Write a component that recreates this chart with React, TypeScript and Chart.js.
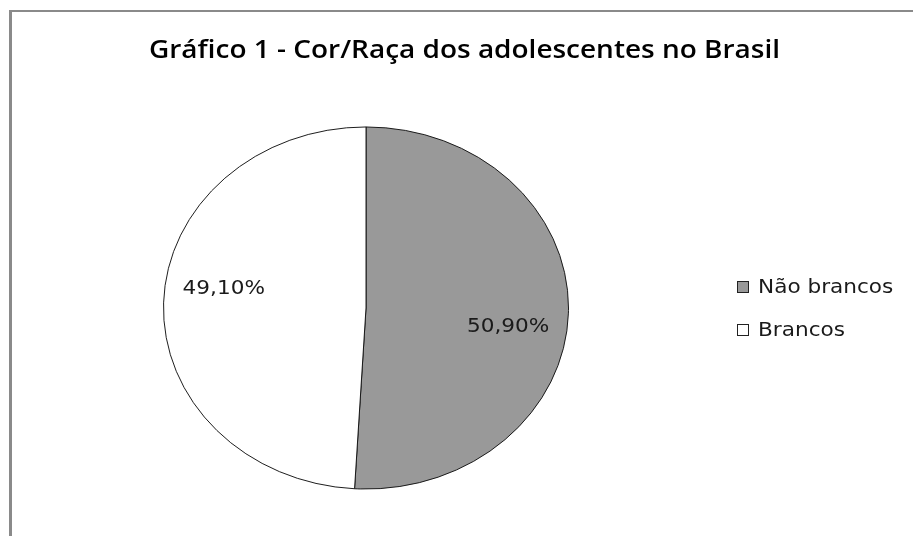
import React, { useEffect, useRef } from "react";
import { Chart, registerables } from "chart.js";

Chart.register(...registerables);

const titleText = "Gráfico 1 - Cor/Raça dos adolescentes no Brasil";
const categories = ["Não brancos", "Brancos"];
const values = [50.9, 49.1];
const valueLabels = ["50,90%", "49,10%"];
const colors = ["#999999", "#ffffff"];

const W = 913;
const H = 536;
const ELLIPSE_Y = 0.894;
const TEXT_SX = 1.08;

const ellipsePlugin = {
  id: "ellipse",
  beforeDatasetsDraw(chart: any) {
    const arc = chart.getDatasetMeta(0).data[0];
    if (!arc) return;
    const ctx = chart.ctx;
    ctx.save();
    ctx.translate(arc.x, arc.y);
    ctx.scale(1, ELLIPSE_Y);
    ctx.translate(-arc.x, -arc.y);
  },
  afterDatasetsDraw(chart: any) {
    chart.ctx.restore();
  },
};

const decorPlugin = {
  id: "decor",
  beforeDraw(chart: any) {
    const ctx = chart.ctx;
    ctx.save();
    ctx.fillStyle = "#ffffff";
    ctx.fillRect(0, 0, W, H);
    // frame
    ctx.strokeStyle = "#8a8a8a";
    ctx.lineWidth = 3;
    ctx.beginPath();
    ctx.moveTo(10.5, H + 2);
    ctx.lineTo(10.5, 11);
    ctx.stroke();
    ctx.lineWidth = 2;
    ctx.beginPath();
    ctx.moveTo(9, 11);
    ctx.lineTo(W + 2, 11);
    ctx.stroke();
    ctx.restore();
  },
  afterDraw(chart: any) {
    const ctx = chart.ctx;
    const meta = chart.getDatasetMeta(0);
    ctx.save();
    // title
    ctx.font = "600 25px 'Open Sans'";
    ctx.fillStyle = "#000";
    ctx.textBaseline = "alphabetic";
    ctx.textAlign = "left";
    const tw = ctx.measureText(titleText).width;
    const targetW = 631;
    ctx.save();
    ctx.translate(149, 58);
    ctx.scale(targetW / tw, 1);
    ctx.fillText(titleText, 0, 0);
    ctx.restore();

    // value labels
    ctx.font = "20px 'DejaVu Sans'";
    ctx.fillStyle = "#1a1a1a";
    ctx.textAlign = "center";
    ctx.textBaseline = "middle";
    meta.data.forEach((arc: any, i: number) => {
      const mid = (arc.startAngle + arc.endAngle) / 2 + 0.12;
      const r = arc.outerRadius * 0.71;
      const x = arc.x + r * Math.cos(mid);
      const y = arc.y + r * Math.sin(mid) * ELLIPSE_Y;
      ctx.save();
      ctx.translate(x, y);
      ctx.scale(TEXT_SX, 1);
      ctx.fillText(valueLabels[i], 0, 0);
      ctx.restore();
    });

    // legend
    ctx.textAlign = "left";
    categories.forEach((c, i) => {
      const cy = 287 + i * 43;
      ctx.fillStyle = colors[i];
      ctx.fillRect(737.5, cy - 5.5, 11, 11);
      ctx.strokeStyle = "#222";
      ctx.lineWidth = 1;
      ctx.strokeRect(737.5, cy - 5.5, 11, 11);
      ctx.fillStyle = "#1a1a1a";
      ctx.save();
      ctx.translate(758, cy + 1);
      ctx.scale(TEXT_SX, 1);
      ctx.fillText(c, 0, 0);
      ctx.restore();
    });
    ctx.restore();
  },
};

export default function App() {
  const ref = useRef<HTMLCanvasElement>(null);
  useEffect(() => {
    document.body.style.margin = "0";
    if (!ref.current) return;
    const chart = new Chart(ref.current, {
      type: "pie",
      data: {
        labels: categories,
        datasets: [
          {
            data: values,
            backgroundColor: colors,
            borderColor: "#111111",
            borderWidth: 1,
          },
        ],
      },
      options: {
        responsive: false,
        animation: false,
        layout: { padding: { left: 163, right: 344, top: 105, bottom: 25 } },
        plugins: {
          legend: { display: false },
          title: { display: false },
          tooltip: { enabled: false },
        },
      },
      plugins: [decorPlugin, ellipsePlugin],
    } as any);
    return () => chart.destroy();
  }, []);
  return (
    <div style={{ position: "absolute", left: 0, top: 0, width: W, height: H }}>
      <canvas ref={ref} width={W} height={H} style={{ width: W, height: H, display: "block" }} />
    </div>
  );
}
